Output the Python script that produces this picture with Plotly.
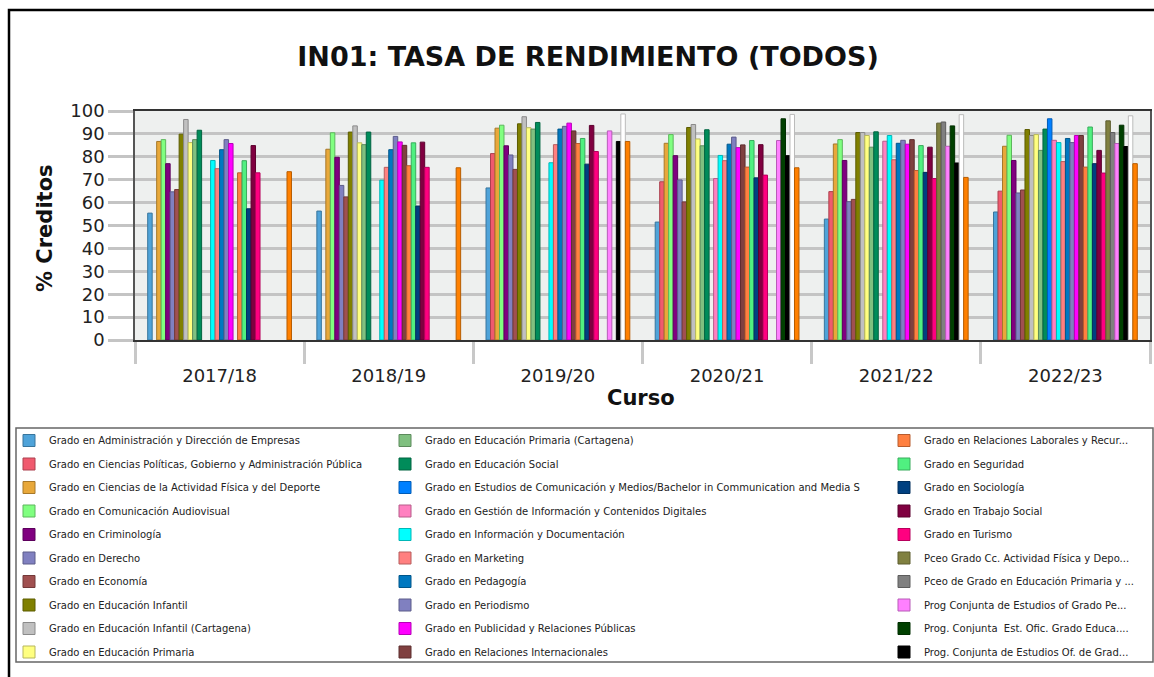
import plotly.graph_objects as go

cursos = ["2017/18", "2018/19", "2019/20", "2020/21", "2021/22", "2022/23"]

titulaciones = [
    "Grado en Administración y Dirección de Empresas",
    "Grado en Ciencias Políticas, Gobierno y Administración Pública",
    "Grado en Ciencias de la Actividad Física y del Deporte",
    "Grado en Comunicación Audiovisual",
    "Grado en Criminología",
    "Grado en Derecho",
    "Grado en Economía",
    "Grado en Educación Infantil",
    "Grado en Educación Infantil (Cartagena)",
    "Grado en Educación Primaria",
    "Grado en Educación Primaria (Cartagena)",
    "Grado en Educación Social",
    "Grado en Estudios de Comunicación y Medios/Bachelor in Communication and Media S",
    "Grado en Gestión de Información y Contenidos Digitales",
    "Grado en Información y Documentación",
    "Grado en Marketing",
    "Grado en Pedagogía",
    "Grado en Periodismo",
    "Grado en Publicidad y Relaciones Públicas",
    "Grado en Relaciones Internacionales",
    "Grado en Relaciones Laborales y Recur...",
    "Grado en Seguridad",
    "Grado en Sociología",
    "Grado en Trabajo Social",
    "Grado en Turismo",
    "Pceo Grado Cc. Actividad Física y Depo...",
    "Pceo de Grado en Educación Primaria y ...",
    "Prog Conjunta de Estudios of Grado Pe...",
    "Prog. Conjunta  Est. Ofic. Grado Educa....",
    "Prog. Conjunta de Estudios Of. de Grad...",
    "Otra titulación (1)",
    "Otra titulación (2)",
]

colores = [
    "#4FA3D9", "#F05A6E", "#E8A83A", "#80FF80", "#800080", "#8080C0",
    "#A05050", "#808000", "#C0C0C0", "#FFFF80", "#80C080", "#008C5A",
    "#0080FF", "#FF80C0", "#00FFFF", "#FF8080", "#0078C0", "#8080C0",
    "#FF00FF", "#804040", "#FF8040", "#50F080", "#004080", "#800040",
    "#FF0080", "#808040", "#808080", "#FF80FF", "#004000", "#000000",
    "#FFFFFF", "#FF8000",
]

N = None
# values per titulación, one per curso (2017/18 ... 2022/23)
valores = [
    [55.4, 56.3, 66.4, 51.5, 52.8, 55.9],
    [N, N, 81.4, 69.1, 64.8, 65.0],
    [86.7, 83.3, 92.5, 85.9, 85.6, 84.6],
    [87.5, 90.5, 93.8, 89.7, 87.5, 89.4],
    [77.0, 79.8, 84.8, 80.5, 78.4, 78.4],
    [64.7, 67.5, 80.8, 69.9, 60.4, 64.2],
    [65.7, 62.5, 74.5, 60.3, 61.4, 65.5],
    [89.9, 90.8, 94.4, 92.8, 90.6, 91.9],
    [96.3, 93.5, 97.5, 94.1, 90.6, 89.3],
    [86.2, 86.1, 92.7, 87.8, 89.3, 89.7],
    [87.5, 85.3, 92.1, 84.8, 84.2, 82.8],
    [91.6, 90.8, 95.0, 91.8, 90.9, 92.1],
    [N, N, N, N, N, 96.6],
    [N, N, N, 70.5, 86.8, 87.2],
    [78.4, 69.8, 77.4, 80.6, 89.3, 86.2],
    [74.8, 75.4, 85.3, 78.3, 78.7, 77.9],
    [83.1, 83.1, 92.1, 85.5, 85.9, 88.0],
    [87.5, 88.9, 93.3, 88.6, 87.2, 86.2],
    [85.8, 86.5, 94.7, 84.0, 85.5, 89.3],
    [N, 85.0, 91.3, 85.2, 87.5, 89.3],
    [73.0, 76.1, 85.8, 75.5, 74.0, 75.5],
    [78.3, 86.1, 88.0, 87.1, 84.9, 93.0],
    [57.3, 58.5, 76.8, 70.8, 73.2, 77.0],
    [84.9, 86.4, 93.7, 85.3, 84.2, 82.8],
    [73.0, 75.4, 82.3, 72.0, 70.5, 72.9],
    [N, N, N, N, 94.7, 95.7],
    [N, N, N, N, 95.2, 90.6],
    [N, N, 91.3, 87.1, 84.6, 85.8],
    [N, N, N, 96.6, 93.5, 93.8],
    [N, N, 86.7, 80.5, 77.3, 84.5],
    [N, N, 98.7, 98.5, 98.4, 97.9],
    [73.5, 75.2, 86.7, 75.2, 71.0, 77.0],
]


def darker(hex_color, f=0.72):
    h = hex_color.lstrip("#")
    r, g, b = (int(h[i:i + 2], 16) for i in (0, 2, 4))
    if (r, g, b) == (255, 255, 255):
        return "#BBBBBB"
    return "rgb(%d,%d,%d)" % (int(r * f), int(g * f), int(b * f))


W, H = 1154, 677
L, R, T, B = 135, 4, 111, 337
PW, PH = W - L - R, H - T - B


def px_x(x):
    return (x - L) / PW


def px_y(y):
    return (H - B - y) / PH


fig = go.Figure()
legend_ids = ["legend", "legend2", "legend3"]
for i, (name, col, vals) in enumerate(zip(titulaciones, colores, valores)):
    show = i < 30
    fig.add_trace(go.Bar(
        x=cursos, y=vals, name=name,
        marker=dict(color=col, line=dict(color=darker(col), width=1)),
        showlegend=show,
        legend=legend_ids[min(i // 10, 2)],
        legendgroup="g%d" % i,
    ))

leg_common = dict(
    font=dict(family="DejaVu Sans", size=10, color="#222"),
    bgcolor="rgba(0,0,0,0)", borderwidth=0,
    xref="container", yref="container",
    xanchor="left", yanchor="top",
    tracegroupgap=4.5, orientation="v",
)
top_leg = 1 - 426 / H
fig.update_layout(
    legend=dict(x=9 / W, y=top_leg, **leg_common),
    legend2=dict(x=385 / W, y=top_leg, **leg_common),
    legend3=dict(x=884 / W, y=top_leg, **leg_common),
)

fig.update_layout(
    width=W, height=H,
    margin=dict(l=L, r=R, t=T, b=B, autoexpand=False),
    paper_bgcolor="white",
    plot_bgcolor="#EEF0EF",
    barmode="group", bargap=0.15, bargroupgap=0,
    font=dict(family="DejaVu Sans", color="#111"),
    title=dict(
        text="<b>IN01: TASA DE RENDIMIENTO (TODOS)</b>",
        font=dict(family="DejaVu Sans", size=27, color="#111"),
        x=588 / W, xanchor="center", xref="container",
        y=1 - 57 / H, yanchor="middle", yref="container",
    ),
    xaxis=dict(
        tickfont=dict(size=18, color="#222"),
        tickson="boundaries", ticks="outside", ticklen=22, tickwidth=3,
        tickcolor="#C8C8C8", ticklabelstandoff=18,
        showline=True, linecolor="#333", linewidth=2, mirror=True,
        showgrid=False, automargin=False,
    ),
    yaxis=dict(
        range=[0, 100], dtick=10, tick0=0,
        tickfont=dict(size=18, color="#222"),
        ticks="outside", ticklen=25, tickwidth=3, tickcolor="#C4C4C4",
        showgrid=True, gridcolor="#C4C4C4", gridwidth=3,
        showline=True, linecolor="#555", linewidth=1.5, mirror=True,
        zeroline=False, automargin=False,
    ),
    annotations=[
        dict(text="<b>% Creditos</b>", xref="paper", yref="paper",
             x=px_x(45), y=px_y(228), xanchor="center", yanchor="middle",
             textangle=-90, showarrow=False,
             font=dict(family="DejaVu Sans", size=21, color="#111")),
        dict(text="<b>Curso</b>", xref="paper", yref="paper",
             x=px_x(641), y=px_y(398), xanchor="center", yanchor="middle",
             showarrow=False,
             font=dict(family="DejaVu Sans", size=21, color="#111")),
    ],
    shapes=[
        dict(type="rect", xref="paper", yref="paper",
             x0=px_x(16), x1=px_x(1153), y0=px_y(662), y1=px_y(428),
             line=dict(color="#666", width=1.5), fillcolor="rgba(0,0,0,0)", layer="above"),
        dict(type="rect", xref="paper", yref="paper",
             x0=px_x(9), x1=px_x(1170), y0=px_y(700), y1=px_y(10),
             line=dict(color="black", width=2.5), fillcolor="rgba(0,0,0,0)", layer="above"),
    ],
)

fig.write_html("out.html", config={"displayModeBar": False},
               post_script="document.body.style.margin='0px';")
